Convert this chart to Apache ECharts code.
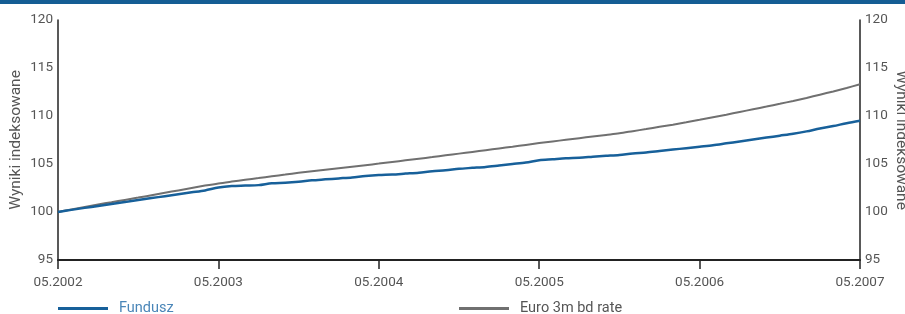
<!DOCTYPE html>
<html>
<head>
<meta charset="utf-8">
<script src="https://cdn.jsdelivr.net/npm/echarts@6/dist/echarts.min.js"></script>
<style>
  html, body { margin: 0; padding: 0; background: #fff; }
  #main { width: 905px; height: 314px; }
</style>
</head>
<body>
<div id="main"></div>
<script>
// miesiace od 05.2002 do 05.2007
let months = []
for (let i = 0; i <= 60; i++) {
    let m = (4 + i) % 12 + 1
    let y = 2002 + Math.floor((4 + i) / 12)
    months.push((m < 10 ? "0" + m : "" + m) + "." + y)
}

let fundusz = [
    100.0, 100.22, 100.43, 100.63, 100.83, 101.03, 101.24, 101.45, 101.65, 101.85, 102.05, 102.25, 102.55,
    102.7, 102.75, 102.8, 103.0, 103.05, 103.15, 103.3, 103.4, 103.5, 103.6, 103.75, 103.85,
    103.9, 104.0, 104.1, 104.25, 104.35, 104.5, 104.6, 104.7, 104.85, 105.0, 105.15, 105.4,
    105.5, 105.6, 105.65, 105.75, 105.85, 105.95, 106.1, 106.2, 106.35, 106.5, 106.65, 106.8,
    106.95, 107.15, 107.35, 107.55, 107.75, 107.95, 108.15, 108.4, 108.7, 108.95, 109.25, 109.5
]

let euro = [
    100.0, 100.27, 100.53, 100.78, 101.02, 101.26, 101.5, 101.75, 102.0, 102.25, 102.5, 102.75, 102.98,
    103.17, 103.35, 103.53, 103.72, 103.9, 104.08, 104.24, 104.4, 104.56, 104.72, 104.88, 105.04,
    105.21, 105.38, 105.55, 105.72, 105.9, 106.08, 106.26, 106.44, 106.62, 106.8, 106.99, 107.18,
    107.35, 107.52, 107.69, 107.86, 108.03, 108.2, 108.42, 108.64, 108.87, 109.1, 109.34, 109.6,
    109.87, 110.14, 110.42, 110.7, 110.98, 111.27, 111.57, 111.88, 112.22, 112.56, 112.92, 113.3
]

let seriesNames = ["Fundusz", "Euro 3m bd rate"]
let axisName = "Wyniki indeksowane"

let font = "Roboto, sans-serif"
let labelStyle = { color: "#555", fontSize: 13.5, fontFamily: font }

let yAxisBase = {
    type: "value",
    min: 95,
    max: 120,
    interval: 5,
    name: axisName,
    nameLocation: "middle",
    nameMoveOverlap: false,
    nameTextStyle: { color: "#555", fontSize: 15.5, fontFamily: font },
    axisLine: { show: true, lineStyle: { color: "#222", width: 1.5 } },
    axisTick: { show: false },
    splitLine: { show: false },
    axisLabel: Object.assign({ margin: 5 }, labelStyle)
}

var myChart = echarts.init(document.getElementById("main"))
let option = {
    animation: false,
    backgroundColor: "#fff",
    graphic: [
        {
            type: "rect",
            shape: { x: 0, y: 0, width: 905, height: 4 },
            style: { fill: "#155d94" }
        }
    ],
    grid: { left: 58, right: 45, top: 20, bottom: 54, containLabel: false, outerBoundsMode: "none" },
    legend: [
        {
            left: 53,
            top: 296,
            itemWidth: 50,
            itemHeight: 3,
            itemGap: 10,
            icon: "rect",
            data: [{ name: seriesNames[0], textStyle: { color: "#4a86b8" } }],
            textStyle: { fontSize: 14.5, fontFamily: font, padding: [0, 0, 0, 6] }
        },
        {
            left: 454,
            top: 296,
            itemWidth: 50,
            itemHeight: 3,
            icon: "rect",
            data: [{ name: seriesNames[1], textStyle: { color: "#555" } }],
            textStyle: { fontSize: 14.5, fontFamily: font, padding: [0, 0, 0, 6] }
        }
    ],
    xAxis: {
        type: "category",
        data: months,
        boundaryGap: false,
        axisLine: { lineStyle: { color: "#222", width: 2 } },
        axisTick: { show: true, inside: false, length: 9, interval: 11, lineStyle: { color: "#222", width: 1.5 } },
        axisLabel: Object.assign({ interval: 11, margin: 16 }, labelStyle),
        splitLine: { show: false }
    },
    yAxis: [
        Object.assign({}, yAxisBase, { position: "left", nameGap: 34, nameRotate: 90 }),
        Object.assign({}, yAxisBase, { position: "right", nameGap: 33, nameRotate: -90 })
    ],
    series: [
        {
            name: seriesNames[1],
            type: "line",
            data: euro,
            showSymbol: false,
            smooth: 0.3,
            itemStyle: { color: "#707070" },
            lineStyle: { color: "#707070", width: 2 }
        },
        {
            name: seriesNames[0],
            type: "line",
            data: fundusz,
            showSymbol: false,
            smooth: 0.3,
            itemStyle: { color: "#17609a" },
            lineStyle: { color: "#17609a", width: 2.5 }
        }
    ]
}
myChart.setOption(option)
</script>
</body>
</html>
